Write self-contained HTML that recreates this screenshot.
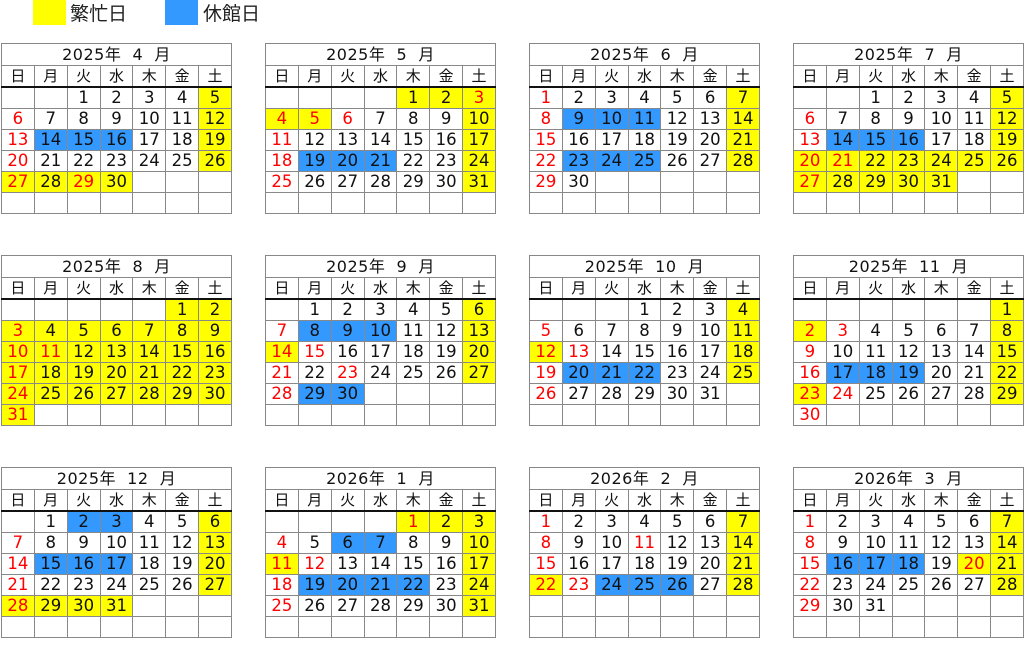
<!DOCTYPE html>
<html><head><meta charset="utf-8"><style>
body{margin:0;width:1024px;height:672px;background:#fff;position:relative;overflow:hidden;font-family:"DejaVu Sans","Noto Sans CJK JP",sans-serif;}
.lg{position:absolute;top:0;width:33px;height:25px}
.lt{position:absolute;top:0;font-size:19px;line-height:25px;color:#222;font-family:"Noto Sans CJK JP",sans-serif}
table{position:absolute;border-collapse:collapse;width:231px;table-layout:fixed}
td{border:1px solid #888;text-align:center;font-size:16.5px;height:20px;padding:0;line-height:20px;color:#111;overflow:hidden}
tr.h td{font-size:16px;height:21px;letter-spacing:0.5px;font-family:"DejaVu Sans","Noto Sans CJK JP",sans-serif}
tr.d td{border-bottom:2px solid #111;font-size:15px;font-family:"Noto Sans CJK JP",sans-serif;height:20px}
.y{background:#ffff00}.b{background:#3399ff}.r{color:#f00}
</style></head><body>
<div class="lg" style="left:33px;background:#ffff00"></div><div class="lt" style="left:70px">繁忙日</div>
<div class="lg" style="left:165px;background:#3399ff"></div><div class="lt" style="left:203px">休館日</div>

<table style="left:1px;top:43px">
<tr class="h"><td colspan="7">2025年&nbsp; 4 &nbsp;月</td></tr>
<tr class="d"><td>日</td><td>月</td><td>火</td><td>水</td><td>木</td><td>金</td><td>土</td></tr>
<tr><td></td><td></td><td>1</td><td>2</td><td>3</td><td>4</td><td class="y">5</td></tr>
<tr><td class="r">6</td><td>7</td><td>8</td><td>9</td><td>10</td><td>11</td><td class="y">12</td></tr>
<tr><td class="r">13</td><td class="b">14</td><td class="b">15</td><td class="b">16</td><td>17</td><td>18</td><td class="y">19</td></tr>
<tr><td class="r">20</td><td>21</td><td>22</td><td>23</td><td>24</td><td>25</td><td class="y">26</td></tr>
<tr><td class="r y">27</td><td class="y">28</td><td class="r y">29</td><td class="y">30</td><td></td><td></td><td></td></tr>
<tr><td></td><td></td><td></td><td></td><td></td><td></td><td></td></tr>
</table>

<table style="left:265px;top:43px">
<tr class="h"><td colspan="7">2025年&nbsp; 5 &nbsp;月</td></tr>
<tr class="d"><td>日</td><td>月</td><td>火</td><td>水</td><td>木</td><td>金</td><td>土</td></tr>
<tr><td></td><td></td><td></td><td></td><td class="y">1</td><td class="y">2</td><td class="r y">3</td></tr>
<tr><td class="r y">4</td><td class="r y">5</td><td class="r">6</td><td>7</td><td>8</td><td>9</td><td class="y">10</td></tr>
<tr><td class="r">11</td><td>12</td><td>13</td><td>14</td><td>15</td><td>16</td><td class="y">17</td></tr>
<tr><td class="r">18</td><td class="b">19</td><td class="b">20</td><td class="b">21</td><td>22</td><td>23</td><td class="y">24</td></tr>
<tr><td class="r">25</td><td>26</td><td>27</td><td>28</td><td>29</td><td>30</td><td class="y">31</td></tr>
<tr><td></td><td></td><td></td><td></td><td></td><td></td><td></td></tr>
</table>

<table style="left:529px;top:43px">
<tr class="h"><td colspan="7">2025年&nbsp; 6 &nbsp;月</td></tr>
<tr class="d"><td>日</td><td>月</td><td>火</td><td>水</td><td>木</td><td>金</td><td>土</td></tr>
<tr><td class="r">1</td><td>2</td><td>3</td><td>4</td><td>5</td><td>6</td><td class="y">7</td></tr>
<tr><td class="r">8</td><td class="b">9</td><td class="b">10</td><td class="b">11</td><td>12</td><td>13</td><td class="y">14</td></tr>
<tr><td class="r">15</td><td>16</td><td>17</td><td>18</td><td>19</td><td>20</td><td class="y">21</td></tr>
<tr><td class="r">22</td><td class="b">23</td><td class="b">24</td><td class="b">25</td><td>26</td><td>27</td><td class="y">28</td></tr>
<tr><td class="r">29</td><td>30</td><td></td><td></td><td></td><td></td><td></td></tr>
<tr><td></td><td></td><td></td><td></td><td></td><td></td><td></td></tr>
</table>

<table style="left:793px;top:43px">
<tr class="h"><td colspan="7">2025年&nbsp; 7 &nbsp;月</td></tr>
<tr class="d"><td>日</td><td>月</td><td>火</td><td>水</td><td>木</td><td>金</td><td>土</td></tr>
<tr><td></td><td></td><td>1</td><td>2</td><td>3</td><td>4</td><td class="y">5</td></tr>
<tr><td class="r">6</td><td>7</td><td>8</td><td>9</td><td>10</td><td>11</td><td class="y">12</td></tr>
<tr><td class="r">13</td><td class="b">14</td><td class="b">15</td><td class="b">16</td><td>17</td><td>18</td><td class="y">19</td></tr>
<tr><td class="r y">20</td><td class="r y">21</td><td class="y">22</td><td class="y">23</td><td class="y">24</td><td class="y">25</td><td class="y">26</td></tr>
<tr><td class="r y">27</td><td class="y">28</td><td class="y">29</td><td class="y">30</td><td class="y">31</td><td></td><td></td></tr>
<tr><td></td><td></td><td></td><td></td><td></td><td></td><td></td></tr>
</table>

<table style="left:1px;top:255px">
<tr class="h"><td colspan="7">2025年&nbsp; 8 &nbsp;月</td></tr>
<tr class="d"><td>日</td><td>月</td><td>火</td><td>水</td><td>木</td><td>金</td><td>土</td></tr>
<tr><td></td><td></td><td></td><td></td><td></td><td class="y">1</td><td class="y">2</td></tr>
<tr><td class="r y">3</td><td class="y">4</td><td class="y">5</td><td class="y">6</td><td class="y">7</td><td class="y">8</td><td class="y">9</td></tr>
<tr><td class="r y">10</td><td class="r y">11</td><td class="y">12</td><td class="y">13</td><td class="y">14</td><td class="y">15</td><td class="y">16</td></tr>
<tr><td class="r y">17</td><td class="y">18</td><td class="y">19</td><td class="y">20</td><td class="y">21</td><td class="y">22</td><td class="y">23</td></tr>
<tr><td class="r y">24</td><td class="y">25</td><td class="y">26</td><td class="y">27</td><td class="y">28</td><td class="y">29</td><td class="y">30</td></tr>
<tr><td class="r y">31</td><td></td><td></td><td></td><td></td><td></td><td></td></tr>
</table>

<table style="left:265px;top:255px">
<tr class="h"><td colspan="7">2025年&nbsp; 9 &nbsp;月</td></tr>
<tr class="d"><td>日</td><td>月</td><td>火</td><td>水</td><td>木</td><td>金</td><td>土</td></tr>
<tr><td></td><td>1</td><td>2</td><td>3</td><td>4</td><td>5</td><td class="y">6</td></tr>
<tr><td class="r">7</td><td class="b">8</td><td class="b">9</td><td class="b">10</td><td>11</td><td>12</td><td class="y">13</td></tr>
<tr><td class="r y">14</td><td class="r">15</td><td>16</td><td>17</td><td>18</td><td>19</td><td class="y">20</td></tr>
<tr><td class="r">21</td><td>22</td><td class="r">23</td><td>24</td><td>25</td><td>26</td><td class="y">27</td></tr>
<tr><td class="r">28</td><td class="b">29</td><td class="b">30</td><td></td><td></td><td></td><td></td></tr>
<tr><td></td><td></td><td></td><td></td><td></td><td></td><td></td></tr>
</table>

<table style="left:529px;top:255px">
<tr class="h"><td colspan="7">2025年&nbsp; 10 &nbsp;月</td></tr>
<tr class="d"><td>日</td><td>月</td><td>火</td><td>水</td><td>木</td><td>金</td><td>土</td></tr>
<tr><td></td><td></td><td></td><td>1</td><td>2</td><td>3</td><td class="y">4</td></tr>
<tr><td class="r">5</td><td>6</td><td>7</td><td>8</td><td>9</td><td>10</td><td class="y">11</td></tr>
<tr><td class="r y">12</td><td class="r">13</td><td>14</td><td>15</td><td>16</td><td>17</td><td class="y">18</td></tr>
<tr><td class="r">19</td><td class="b">20</td><td class="b">21</td><td class="b">22</td><td>23</td><td>24</td><td class="y">25</td></tr>
<tr><td class="r">26</td><td>27</td><td>28</td><td>29</td><td>30</td><td>31</td><td></td></tr>
<tr><td></td><td></td><td></td><td></td><td></td><td></td><td></td></tr>
</table>

<table style="left:793px;top:255px">
<tr class="h"><td colspan="7">2025年&nbsp; 11 &nbsp;月</td></tr>
<tr class="d"><td>日</td><td>月</td><td>火</td><td>水</td><td>木</td><td>金</td><td>土</td></tr>
<tr><td></td><td></td><td></td><td></td><td></td><td></td><td class="y">1</td></tr>
<tr><td class="r y">2</td><td class="r">3</td><td>4</td><td>5</td><td>6</td><td>7</td><td class="y">8</td></tr>
<tr><td class="r">9</td><td>10</td><td>11</td><td>12</td><td>13</td><td>14</td><td class="y">15</td></tr>
<tr><td class="r">16</td><td class="b">17</td><td class="b">18</td><td class="b">19</td><td>20</td><td>21</td><td class="y">22</td></tr>
<tr><td class="r y">23</td><td class="r">24</td><td>25</td><td>26</td><td>27</td><td>28</td><td class="y">29</td></tr>
<tr><td class="r">30</td><td></td><td></td><td></td><td></td><td></td><td></td></tr>
</table>

<table style="left:1px;top:467px">
<tr class="h"><td colspan="7">2025年&nbsp; 12 &nbsp;月</td></tr>
<tr class="d"><td>日</td><td>月</td><td>火</td><td>水</td><td>木</td><td>金</td><td>土</td></tr>
<tr><td></td><td>1</td><td class="b">2</td><td class="b">3</td><td>4</td><td>5</td><td class="y">6</td></tr>
<tr><td class="r">7</td><td>8</td><td>9</td><td>10</td><td>11</td><td>12</td><td class="y">13</td></tr>
<tr><td class="r">14</td><td class="b">15</td><td class="b">16</td><td class="b">17</td><td>18</td><td>19</td><td class="y">20</td></tr>
<tr><td class="r">21</td><td>22</td><td>23</td><td>24</td><td>25</td><td>26</td><td class="y">27</td></tr>
<tr><td class="r y">28</td><td class="y">29</td><td class="y">30</td><td class="y">31</td><td></td><td></td><td></td></tr>
<tr><td></td><td></td><td></td><td></td><td></td><td></td><td></td></tr>
</table>

<table style="left:265px;top:467px">
<tr class="h"><td colspan="7">2026年&nbsp; 1 &nbsp;月</td></tr>
<tr class="d"><td>日</td><td>月</td><td>火</td><td>水</td><td>木</td><td>金</td><td>土</td></tr>
<tr><td></td><td></td><td></td><td></td><td class="r y">1</td><td class="y">2</td><td class="y">3</td></tr>
<tr><td class="r">4</td><td>5</td><td class="b">6</td><td class="b">7</td><td>8</td><td>9</td><td class="y">10</td></tr>
<tr><td class="r y">11</td><td class="r">12</td><td>13</td><td>14</td><td>15</td><td>16</td><td class="y">17</td></tr>
<tr><td class="r">18</td><td class="b">19</td><td class="b">20</td><td class="b">21</td><td class="b">22</td><td>23</td><td class="y">24</td></tr>
<tr><td class="r">25</td><td>26</td><td>27</td><td>28</td><td>29</td><td>30</td><td class="y">31</td></tr>
<tr><td></td><td></td><td></td><td></td><td></td><td></td><td></td></tr>
</table>

<table style="left:529px;top:467px">
<tr class="h"><td colspan="7">2026年&nbsp; 2 &nbsp;月</td></tr>
<tr class="d"><td>日</td><td>月</td><td>火</td><td>水</td><td>木</td><td>金</td><td>土</td></tr>
<tr><td class="r">1</td><td>2</td><td>3</td><td>4</td><td>5</td><td>6</td><td class="y">7</td></tr>
<tr><td class="r">8</td><td>9</td><td>10</td><td class="r">11</td><td>12</td><td>13</td><td class="y">14</td></tr>
<tr><td class="r">15</td><td>16</td><td>17</td><td>18</td><td>19</td><td>20</td><td class="y">21</td></tr>
<tr><td class="r y">22</td><td class="r">23</td><td class="b">24</td><td class="b">25</td><td class="b">26</td><td>27</td><td class="y">28</td></tr>
<tr><td></td><td></td><td></td><td></td><td></td><td></td><td></td></tr>
<tr><td></td><td></td><td></td><td></td><td></td><td></td><td></td></tr>
</table>

<table style="left:793px;top:467px">
<tr class="h"><td colspan="7">2026年&nbsp; 3 &nbsp;月</td></tr>
<tr class="d"><td>日</td><td>月</td><td>火</td><td>水</td><td>木</td><td>金</td><td>土</td></tr>
<tr><td class="r">1</td><td>2</td><td>3</td><td>4</td><td>5</td><td>6</td><td class="y">7</td></tr>
<tr><td class="r">8</td><td>9</td><td>10</td><td>11</td><td>12</td><td>13</td><td class="y">14</td></tr>
<tr><td class="r">15</td><td class="b">16</td><td class="b">17</td><td class="b">18</td><td>19</td><td class="r y">20</td><td class="y">21</td></tr>
<tr><td class="r">22</td><td>23</td><td>24</td><td>25</td><td>26</td><td>27</td><td class="y">28</td></tr>
<tr><td class="r">29</td><td>30</td><td>31</td><td></td><td></td><td></td><td></td></tr>
<tr><td></td><td></td><td></td><td></td><td></td><td></td><td></td></tr>
</table>
</body></html>
